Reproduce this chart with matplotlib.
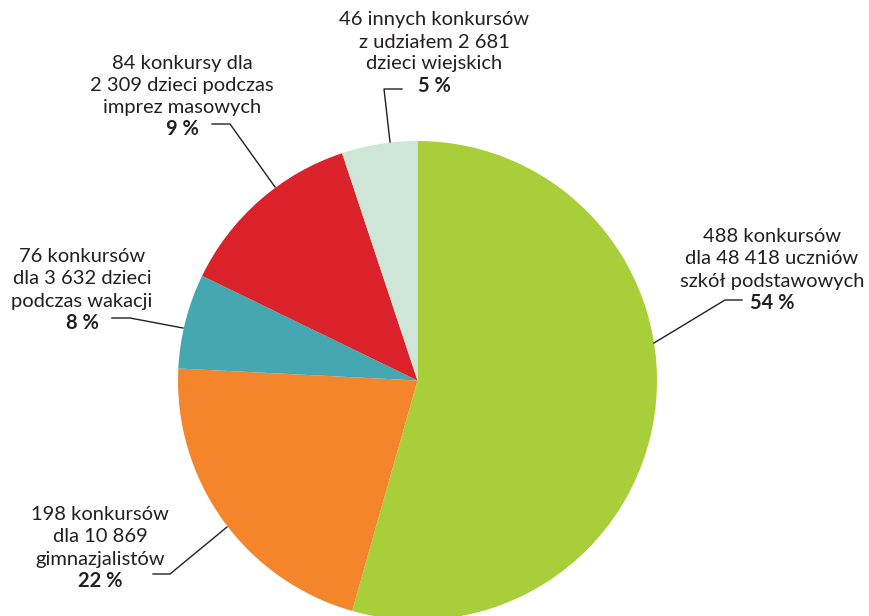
import matplotlib
matplotlib.use("Agg")
import matplotlib.pyplot as plt

plt.rcParams['font.family'] = ['Lato', 'DejaVu Sans']

# slice sizes, clockwise from 12 o'clock
shares = [54.4, 21.4, 6.4, 12.7, 5.1]
texts = [
    "488 konkursów\ndla 48 418 uczniów\nszkół podstawowych",
    "198 konkursów\ndla 10 869\ngimnazjalistów",
    "76 konkursów\ndla 3 632 dzieci\npodczas wakacji",
    "84 konkursy dla\n2 309 dzieci podczas\nimprez masowych",
    "46 innych konkursów\nz udziałem 2 681\ndzieci wiejskich",
]
percents = ["54 %", "22 %", "8 %", "9 %", "5 %"]
colors = ["#a8cf3a", "#f4852a", "#45a7b0", "#db2129", "#cde6d6"]

W, H = 869, 616
fig = plt.figure(figsize=(W / 100, H / 100), dpi=100)
ax = fig.add_axes([0, 0, 1, 1])
ax.axis("off")

ax.pie(shares, colors=colors, startangle=90, counterclock=False,
       center=(417.5, H - 380.5), radius=239.5,
       wedgeprops=dict(linewidth=0))
ax.set_xlim(0, W)
ax.set_ylim(0, H)
ax.set_aspect("equal")

# label positions (text centre x, first line centre y), leader polylines (image px)
label_pos = [(772, 237), (100, 515), (82, 257), (182, 63), (434, 20)]
leaders = [
    [(742, 300), (725, 300), (654, 343)],
    [(153, 574), (170, 574), (227, 527)],
    [(112, 318), (130, 318), (183, 328)],
    [(212, 124), (230, 124), (275, 187)],
    [(402, 89), (384, 89), (390, 142)],
]

tc = "#231f20"
step = 22
for (x, y), t, p, pts in zip(label_pos, texts, percents, leaders):
    lines = t.split("\n")
    for i, line in enumerate(lines):
        ax.text(x, H - (y + i * step), line, ha="center", va="center",
                fontsize=14.5, color=tc)
    ax.text(x, H - (y + len(lines) * step), p, ha="center", va="center",
            fontsize=14.5, color=tc, fontweight="bold")
    xs = [q[0] for q in pts]
    ys = [H - q[1] for q in pts]
    ax.plot(xs, ys, color=tc, lw=1.0)

fig.savefig("out.png", dpi=100)
